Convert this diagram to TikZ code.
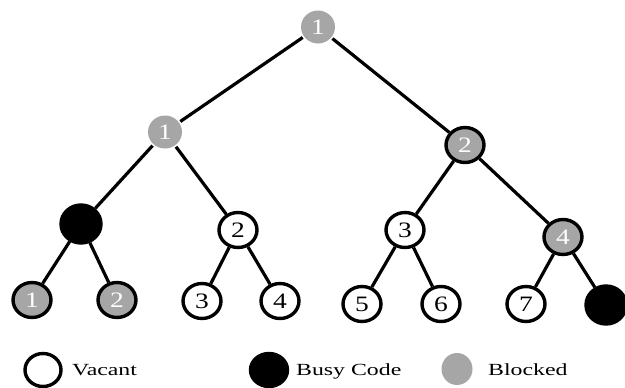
\documentclass[tikz,border=0pt]{standalone}
\usepackage{fontspec}
\setmainfont{Liberation Serif}
\usepackage{graphicx}
\usetikzlibrary{shapes.geometric}
\definecolor{blockgray}{RGB}{166,166,166}
\newcommand{\numtxt}[1]{\fontsize{22}{22}\selectfont\scalebox{1.25}[1]{#1}}
\newcommand{\legtxt}[1]{\fontsize{17}{18}\selectfont\scalebox{1.4}[1]{#1}}
\tikzset{
  code/.style={ellipse, minimum width=38pt, minimum height=35pt, inner sep=0pt, line width=3.4pt},
  vacant/.style={code, draw=black, fill=white, text=black},
  busy/.style={code, draw=black, fill=black, minimum width=40pt, minimum height=38pt},
  blocked/.style={code, draw=black, fill=blockgray, text=white},
  blockedsoft/.style={code, fill=blockgray, text=white, minimum width=34pt, minimum height=33pt},
  branch/.style={line width=3.2pt, black},
  legend/.style={anchor=base west, inner sep=0pt, text=black}
}
\begin{document}
\begin{tikzpicture}[x=1pt, y=-1pt]
  \useasboundingbox (0,0) rectangle (625,388);

  % root and first level
  \node[blockedsoft] (r) at (318,27) {\numtxt{1}};
  \node[blockedsoft] (a) at (165,132) {\numtxt{1}};
  \node[blocked]     (b) at (465,145) {\numtxt{2}};

  % second level
  \node[busy]    (a1) at (81,224) {};
  \node[vacant]  (a2) at (238,230) {\numtxt{2}};
  \node[vacant]  (b1) at (405,230) {\numtxt{3}};
  \node[blocked] (b2) at (563,237) {\numtxt{4}};

  % leaves
  \node[blocked] (l1) at (32,300) {\numtxt{1}};
  \node[blocked] (l2) at (117,300) {\numtxt{2}};
  \node[vacant]  (l3) at (202,301) {\numtxt{3}};
  \node[vacant]  (l4) at (280,301) {\numtxt{4}};
  \node[vacant]  (l5) at (362,304) {\numtxt{5}};
  \node[vacant]  (l6) at (441,304) {\numtxt{6}};
  \node[vacant]  (l7) at (526,304) {\numtxt{7}};
  \node[busy]    (l8) at (606,305) {};

  % branches
  \draw[branch] (r) -- (a);
  \draw[branch] (r) -- (b);
  \draw[branch] (a) -- (a1);
  \draw[branch] (a) -- (a2);
  \draw[branch] (b) -- (b1);
  \draw[branch] (b) -- (b2);
  \draw[branch] (a1) -- (l1);
  \draw[branch] (a1) -- (l2);
  \draw[branch] (a2) -- (l3);
  \draw[branch] (a2) -- (l4);
  \draw[branch] (b1) -- (l5);
  \draw[branch] (b1) -- (l6);
  \draw[branch] (b2) -- (l7);
  \draw[branch] (b2) -- (l8);

  % legend
  \node[vacant, minimum width=36pt, minimum height=33pt] (kv) at (43,370) {};
  \node[legend] (tv) at (72,375) {\legtxt{Vacant}};
  \node[busy, minimum width=37pt, minimum height=33pt] (kb) at (269,370) {};
  \node[legend] (tb) at (296,375) {\legtxt{Busy Code}};
  \node[blockedsoft, minimum width=31pt, minimum height=32pt] (kg) at (457,369) {};
  \node[legend] (tg) at (488,375) {\legtxt{Blocked}};
\end{tikzpicture}
\end{document}
